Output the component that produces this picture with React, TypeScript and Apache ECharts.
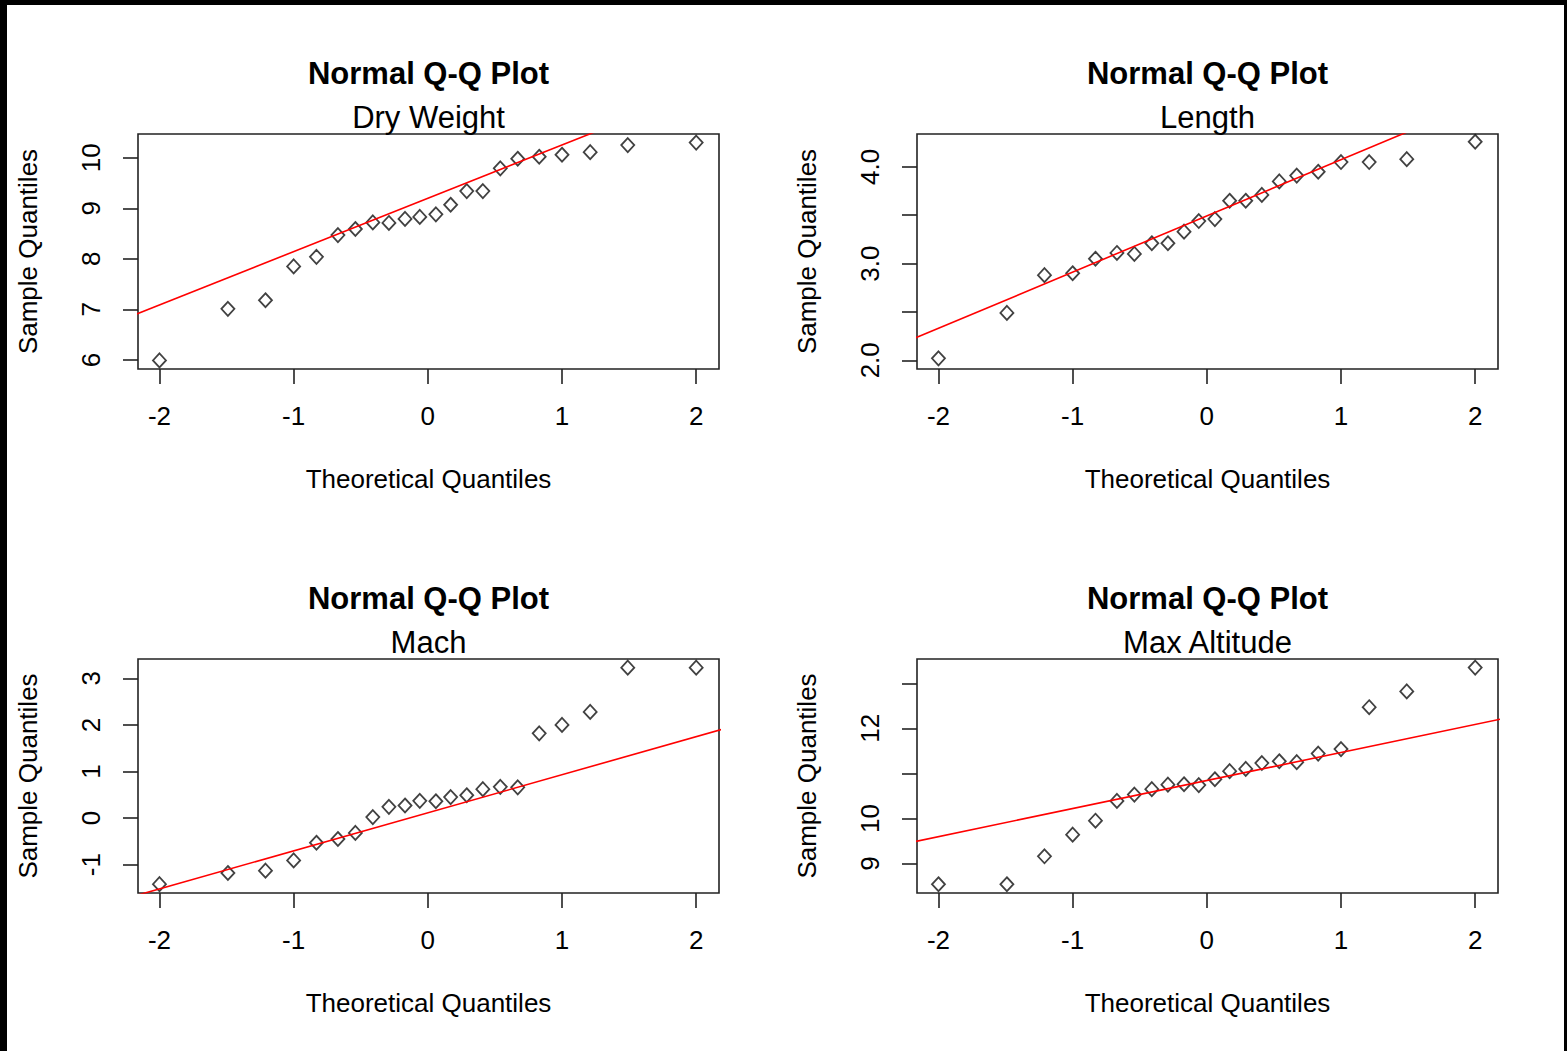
import React, { useEffect, useRef } from "react";
import * as echarts from "echarts";

// ---------- data ----------
const xTicks = [-2, -1, 0, 1, 2];
const theoreticalQ = [
  -2.0, -1.49, -1.21, -1.0, -0.83, -0.67, -0.54, -0.41, -0.29, -0.17, -0.06,
  0.06, 0.17, 0.29, 0.41, 0.54, 0.67, 0.83, 1.0, 1.21, 1.49, 2.0,
];

const dryWeight = [
  5.99, 7.01, 7.18, 7.85, 8.04, 8.47, 8.59, 8.72, 8.71, 8.79, 8.83, 8.88, 9.07,
  9.34, 9.34, 9.79, 9.98, 10.02, 10.06, 10.11, 10.25, 10.3,
];
const lengthQ = [
  2.02, 2.49, 2.88, 2.9, 3.05, 3.11, 3.1, 3.21, 3.21, 3.33, 3.44, 3.46, 3.65,
  3.65, 3.71, 3.85, 3.91, 3.95, 4.05, 4.05, 4.08, 4.26,
];
const machQ = [
  -1.42, -1.18, -1.13, -0.91, -0.53, -0.45, -0.32, 0.02, 0.24, 0.27, 0.37,
  0.36, 0.45, 0.49, 0.62, 0.67, 0.66, 1.82, 2.0, 2.28, 3.23, 3.23,
];
const maxAltitude = [
  8.54, 8.54, 9.16, 9.64, 9.95, 10.39, 10.53, 10.65, 10.75, 10.76, 10.74,
  10.87, 11.05, 11.1, 11.23, 11.27, 11.25, 11.44, 11.54, 12.47, 12.82, 13.35,
];

// Q-Q reference lines: end points (x, y), clipped by the plot box
const dryWeightLine = [[-2.5, 6.56], [2.5, 11.835]];
const lengthLine = [[-2.5, 2.04], [2.5, 4.946]];
const machLine = [[-2.5, -1.931], [2.5, 2.157]];
const maxAltitudeLine = [[-2.5, 9.285], [2.5, 12.398]];

const subtitles = ["Dry Weight", "Length", "Mach", "Max Altitude"];
const mainTitle = "Normal Q-Q Plot";
const xName = "Theoretical Quantiles";
const yName = "Sample Quantiles";

const xRange = [-2.16, 2.17];
const yRanges = [
  [5.82, 10.47],
  [1.91, 4.34],
  [-1.61, 3.416],
  [8.345, 13.54],
];
const yTickValues = [
  [6, 7, 8, 9, 10],
  [2.0, 2.5, 3.0, 3.5, 4.0],
  [-1, 0, 1, 2, 3],
  [9, 10, 11, 12, 13],
];
const yLabelValues = [
  [6, 7, 8, 9, 10],
  [2, 3, 4],
  [-1, 0, 1, 2, 3],
  [9, 10, 12],
];
const yDecimals = [0, 1, 0, 0];

// ---------- layout ----------
const W = 1567;
const H = 1051;
const boxes = [
  { left: 138, top: 134, width: 581, height: 235 },
  { left: 917, top: 134, width: 581, height: 235 },
  { left: 138, top: 659, width: 581, height: 234 },
  { left: 917, top: 659, width: 581, height: 234 },
];
const FONT = "'Liberation Sans', Arial, Helvetica, sans-serif";

export default function App() {
  const ref = useRef<HTMLDivElement>(null);

  useEffect(() => {
    if (!ref.current) return;
    const chart = echarts.init(ref.current, undefined, { renderer: "svg" });
    const seriesValues = [dryWeight, lengthQ, machQ, maxAltitude];
    const lines = [dryWeightLine, lengthLine, machLine, maxAltitudeLine];

    const grid = boxes.map((b) => ({
      left: b.left,
      top: b.top,
      width: b.width,
      height: b.height,
      show: true,
      borderColor: "#222",
      borderWidth: 1.6,
      backgroundColor: "transparent",
      containLabel: false,
    }));

    const axisText = { color: "#000", fontFamily: FONT, fontSize: 26 };

    const xAxis = boxes.map((_, i) => ({
      type: "value",
      gridIndex: i,
      position: "bottom",
      min: xRange[0],
      max: xRange[1],
      axisLine: { show: false, onZero: false },
      splitLine: { show: false },
      axisTick: {
        show: true,
        customValues: xTicks,
        length: 15,
        lineStyle: { color: "#222", width: 1.6 },
      },
      axisLabel: {
        show: true,
        customValues: xTicks,
        margin: 34,
        ...axisText,
        formatter: (v: number) => String(v),
      },
      name: xName,
      nameLocation: "middle",
      nameGap: 97,
      nameTextStyle: { ...axisText },
    }));

    const yAxis = boxes.map((_, i) => ({
      type: "value",
      gridIndex: i,
      position: "left",
      min: yRanges[i][0],
      max: yRanges[i][1],
      axisLine: { show: false, onZero: false },
      splitLine: { show: false },
      axisTick: {
        show: true,
        customValues: yTickValues[i],
        length: 15,
        lineStyle: { color: "#222", width: 1.6 },
      },
      axisLabel: {
        show: true,
        customValues: yLabelValues[i],
        rotate: 90,
        margin: 34,
        ...axisText,
        formatter: (v: number) => v.toFixed(yDecimals[i]),
      },
      name: yName,
      nameLocation: "middle",
      nameGap: 97,
      nameRotate: 90,
      nameTextStyle: { ...axisText },
    }));

    const series: any[] = [];
    seriesValues.forEach((vals, i) => {
      series.push({
        type: "scatter",
        xAxisIndex: i,
        yAxisIndex: i,
        symbol: "diamond",
        symbolSize: [13, 14],
        itemStyle: {
          color: "rgba(0,0,0,0)",
          borderColor: "#111",
          borderWidth: 1.8,
        },
        data: theoreticalQ.map((x, j) => [x, vals[j]]),
        z: 3,
      });
      series.push({
        type: "line",
        xAxisIndex: i,
        yAxisIndex: i,
        data: lines[i],
        showSymbol: false,
        symbol: "none",
        clip: true,
        lineStyle: { color: "#ff0000", width: 1.6 },
        z: 4,
      });
    });

    const graphic: any[] = [];
    boxes.forEach((b, i) => {
      const cx = b.left + b.width / 2;
      graphic.push({
        type: "text",
        x: cx,
        y: b.top - 61,
        style: {
          text: mainTitle,
          font: `bold 31px ${FONT}`,
          fill: "#000",
          textAlign: "center",
          textVerticalAlign: "middle",
        },
      });
      graphic.push({
        type: "text",
        x: cx,
        y: b.top - 17,
        style: {
          text: subtitles[i],
          font: `31px ${FONT}`,
          fill: "#000",
          textAlign: "center",
          textVerticalAlign: "middle",
        },
      });
    });

    chart.setOption({
      animation: false,
      backgroundColor: "#ffffff",
      grid,
      xAxis,
      yAxis,
      series,
      graphic,
    } as any);

    return () => chart.dispose();
  }, []);

  return (
    <div
      style={{
        position: "fixed",
        left: 0,
        top: 0,
        width: W,
        height: H,
        background: "#fff",
        overflow: "hidden",
      }}
    >
      <div ref={ref} style={{ position: "absolute", left: 0, top: 0, width: W, height: H }} />
      <div style={{ position: "absolute", left: 0, top: 0, width: W, height: 5, background: "#000" }} />
      <div style={{ position: "absolute", left: 0, top: 0, width: 7, height: H, background: "#000" }} />
      <div style={{ position: "absolute", left: 1564, top: 0, width: 3, height: H, background: "#000" }} />
    </div>
  );
}
